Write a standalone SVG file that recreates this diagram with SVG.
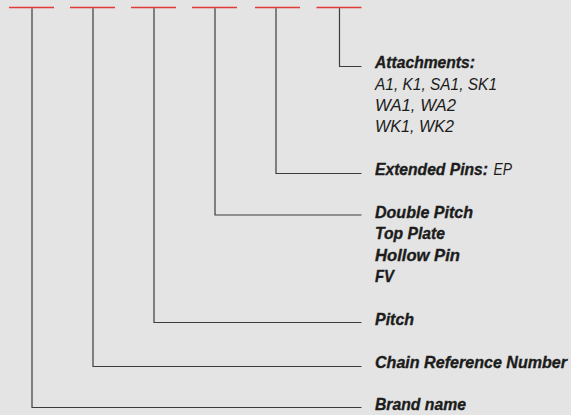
<svg xmlns="http://www.w3.org/2000/svg" width="571" height="415" viewBox="0 0 571 415">
<style>
.bg{fill:#e3e4e3}
.red{stroke:#e33b37;stroke-width:1.6;fill:none}
.con{stroke:#3c3c3c;stroke-width:1.2;fill:none}
text{font-family:"Liberation Sans Narrow","Liberation Sans",Arial,sans-serif;font-size:16.5px;font-style:italic;fill:#1c1c1c}
.b{font-weight:bold;stroke:#1c1c1c;stroke-width:0.35}
.r{font-weight:normal}
</style>
<rect class="bg" x="0" y="0" width="571" height="415"/>
<g id="code-slots">
<line class="red" x1="9" y1="7.5" x2="54" y2="7.5"/>
<line class="red" x1="70" y1="7.5" x2="115" y2="7.5"/>
<line class="red" x1="131" y1="7.5" x2="176" y2="7.5"/>
<line class="red" x1="192" y1="7.5" x2="237" y2="7.5"/>
<line class="red" x1="255" y1="7.5" x2="300" y2="7.5"/>
<line class="red" x1="316.5" y1="7.5" x2="361.5" y2="7.5"/>
</g>
<g id="connectors">
<polyline class="con" points="32,8.3 32,407.5 361.5,407.5"/>
<polyline class="con" points="93,8.3 93,366.5 361.5,366.5"/>
<polyline class="con" points="154,8.3 154,322.5 361.5,322.5"/>
<polyline class="con" points="215,8.3 215,215 361.5,215"/>
<polyline class="con" points="276,8.3 276,173.5 361.5,173.5"/>
<polyline class="con" points="339.5,8.3 339.5,66.5 361.5,66.5"/>
</g>
<g id="attachments">
<text class="b" x="375" y="67.5" textLength="100" lengthAdjust="spacingAndGlyphs">Attachments:</text>
<text class="r" x="375" y="89.5" textLength="122" lengthAdjust="spacingAndGlyphs">A1, K1, SA1, SK1</text>
<text class="r" x="375" y="110.7" textLength="81" lengthAdjust="spacingAndGlyphs">WA1, WA2</text>
<text class="r" x="375" y="131.5" textLength="79" lengthAdjust="spacingAndGlyphs">WK1, WK2</text>
</g>
<g id="extended-pins">
<text class="b" x="375" y="174.5" textLength="113" lengthAdjust="spacingAndGlyphs">Extended Pins:</text>
<text class="r" x="493.5" y="174.5" textLength="18.5" lengthAdjust="spacingAndGlyphs">EP</text>
</g>
<g id="variants">
<text class="b" x="375" y="217.5" textLength="98" lengthAdjust="spacingAndGlyphs">Double Pitch</text>
<text class="b" x="375" y="239" textLength="70" lengthAdjust="spacingAndGlyphs">Top Plate</text>
<text class="b" x="375" y="260.5" textLength="85" lengthAdjust="spacingAndGlyphs">Hollow Pin</text>
<text class="b" x="375" y="282" textLength="19" lengthAdjust="spacingAndGlyphs">FV</text>
</g>
<g id="pitch">
<text class="b" x="375" y="325" textLength="39" lengthAdjust="spacingAndGlyphs">Pitch</text>
</g>
<g id="chain-reference-number">
<text class="b" x="375" y="368" textLength="192" lengthAdjust="spacingAndGlyphs">Chain Reference Number</text>
</g>
<g id="brand-name">
<text class="b" x="375" y="409.5" textLength="91" lengthAdjust="spacingAndGlyphs">Brand name</text>
</g>
</svg>
